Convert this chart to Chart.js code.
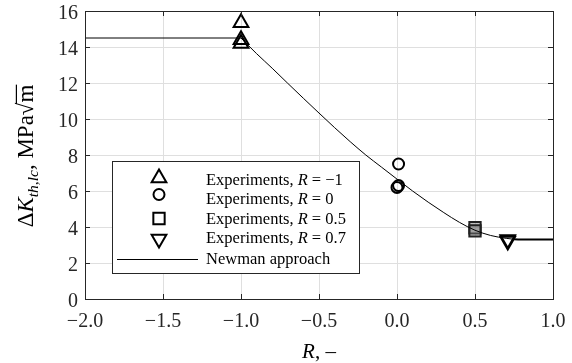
<!DOCTYPE html>
<html><head><meta charset="utf-8">
<script src="https://cdn.jsdelivr.net/npm/chart.js@4"></script>
<style>html,body{margin:0;padding:0;background:#fff;}canvas{display:block;}</style>
</head><body>
<canvas id="c" width="572" height="363"></canvas>
<script>
// ---- data ----
const triR = [-1, -1, -1];
const triK = [15.35, 14.4, 14.2];
const circR = [0.01, 0.01, 0.0];
const circK = [7.5, 6.3, 6.2];
const sqR = [0.5, 0.5];
const sqK = [3.96, 3.78];
const dtriR = [0.71, 0.71];
const dtriK = [3.22, 3.3];
const newmanFlatR = [-2, -1];
const newmanFlatK = [14.5, 14.5];
const newmanR = [-1, -0.9, -0.8, -0.7, -0.6, -0.5, -0.4, -0.3, -0.2, -0.1, 0, 0.1, 0.2, 0.3, 0.4, 0.5, 0.6, 0.7, 0.75, 0.8, 1.0];
const newmanK = [14.5, 13.63, 12.82, 11.98, 11.15, 10.33, 9.52, 8.74, 8.0, 7.33, 6.66, 6.0, 5.38, 4.8, 4.26, 3.82, 3.53, 3.37, 3.32, 3.3, 3.3];
const legendLabels = [
  ['Experiments, ', 'R', ' = −1'],
  ['Experiments, ', 'R', ' = 0'],
  ['Experiments, ', 'R', ' = 0.5'],
  ['Experiments, ', 'R', ' = 0.7'],
  ['Newman approach', '', '']
];
const xMin = -2, xMax = 1, xStep = 0.5;
const yMin = 0, yMax = 16, yStep = 2;

const pts = (xs, ys) => xs.map((x, i) => ({x: x, y: ys[i]}));
const FONT = '"Liberation Serif", "Times New Roman", serif';
const INK = '#262626';

function marker(ctx, style, x, y, r) {
  ctx.beginPath();
  if (style === 'triangle' || style === 'triangleDown') {
    const s = style === 'triangle' ? 1 : -1;
    const h = r * Math.sin(2 * Math.PI / 3);
    ctx.moveTo(x, y - s * r);
    ctx.lineTo(x + h, y + s * r / 2);
    ctx.lineTo(x - h, y + s * r / 2);
    ctx.closePath();
  } else if (style === 'circle') {
    ctx.arc(x, y, r, 0, Math.PI * 2);
  } else {
    const a = r * Math.SQRT1_2;
    ctx.rect(x - a, y - a, 2 * a, 2 * a);
  }
  ctx.fillStyle = '#fff';
  ctx.fill();
  ctx.lineWidth = 2;
  ctx.strokeStyle = '#000';
  ctx.stroke();
}

const decor = {
  id: 'decor',
  afterDatasetsDraw(chart) {
    const ctx = chart.ctx, a = chart.chartArea;
    const sx = chart.scales.x, sy = chart.scales.y;
    ctx.save();
    // inward ticks
    ctx.strokeStyle = INK; ctx.lineWidth = 1;
    ctx.beginPath();
    sx.ticks.forEach(t => {
      const px = Math.round(sx.getPixelForValue(t.value)) + 0.5;
      ctx.moveTo(px, a.bottom); ctx.lineTo(px, a.bottom - 5);
      ctx.moveTo(px, a.top); ctx.lineTo(px, a.top + 5);
    });
    sy.ticks.forEach(t => {
      const py = Math.round(sy.getPixelForValue(t.value)) + 0.5;
      ctx.moveTo(a.left, py); ctx.lineTo(a.left + 5, py);
      ctx.moveTo(a.right, py); ctx.lineTo(a.right - 5, py);
    });
    ctx.stroke();
    // frame
    ctx.strokeRect(Math.round(a.left) + 0.5, Math.round(a.top) + 0.5,
                   Math.round(a.right - a.left), Math.round(a.bottom - a.top));

    // legend box
    const L = 112, T = 161, W = 247, H = 112;
    ctx.fillStyle = '#fff';
    ctx.fillRect(L, T, W, H);
    ctx.strokeStyle = INK;
    ctx.strokeRect(L + 0.5, T + 0.5, W, H);
    const styles = ['triangle', 'circle', 'rect', 'triangleDown'];
    const my = [178, 194.5, 218.5, 239];
    const mr = [8.5, 5.5, 8, 8.5];
    styles.forEach((s, i) => marker(ctx, s, 159, my[i], mr[i]));
    ctx.beginPath();
    ctx.moveTo(117, 259.5); ctx.lineTo(198, 259.5);
    ctx.strokeStyle = '#000'; ctx.lineWidth = 1; ctx.stroke();
    const base = [185, 204, 223.5, 243, 264];
    ctx.fillStyle = '#000';
    ctx.textBaseline = 'alphabetic';
    ctx.textAlign = 'left';
    legendLabels.forEach((parts, i) => {
      let x = 206;
      const fonts = ['16.5px ' + FONT, 'italic 16.5px ' + FONT, '16.5px ' + FONT];
      parts.forEach((p, j) => {
        if (!p) return;
        ctx.font = fonts[j];
        ctx.fillText(p, x, base[i]);
        x += ctx.measureText(p).width;
      });
    });
    ctx.restore();
  },
  afterDraw(chart) {
    const ctx = chart.ctx, a = chart.chartArea;
    ctx.save();
    ctx.fillStyle = '#000';
    ctx.textBaseline = 'alphabetic';
    // x title
    const xp = [['R', 'italic 21px ' + FONT], [', –', '21px ' + FONT]];
    let w = 0;
    xp.forEach(p => { ctx.font = p[1]; w += ctx.measureText(p[0]).width; });
    let x = (a.left + a.right) / 2 - w / 2;
    xp.forEach(p => { ctx.font = p[1]; ctx.fillText(p[0], x, 358); x += ctx.measureText(p[0]).width; });
    // y title
    ctx.translate(33, 156);
    ctx.rotate(-Math.PI / 2);
    const yp = [
      ['Δ', '23px ' + FONT, 0],
      ['K', 'italic 23px ' + FONT, 0],
      ['th,lc', 'italic 15.5px ' + FONT, 5],
      [',', '23px ' + FONT, 0],
      [' MPa', '23px ' + FONT, 0],
      ['√', '23px ' + FONT, 0],
      ['m', '23px ' + FONT, 0]
    ];
    w = 0;
    yp.forEach(p => { ctx.font = p[1]; w += ctx.measureText(p[0]).width; });
    x = -w / 2;
    let sqrtEnd = 0;
    yp.forEach(p => {
      ctx.font = p[1];
      ctx.fillText(p[0], x, p[2]);
      const pw = ctx.measureText(p[0]).width;
      if (p[0] === '√') sqrtEnd = x + pw;
      if (p[0] === 'm') {
        ctx.fillRect(sqrtEnd - 1.5, -17.2, x + pw - sqrtEnd + 1.5, 1.2);
      }
      x += pw;
    });
    ctx.restore();
  }
};

new Chart(document.getElementById('c'), {
  type: 'scatter',
  data: {
    datasets: [
      { data: pts(newmanFlatR, newmanFlatK), showLine: true, borderColor: '#000', borderWidth: 1, pointRadius: 0 },
      { data: pts(newmanR, newmanK), showLine: true, borderColor: '#000', borderWidth: 1, pointRadius: 0,
        cubicInterpolationMode: 'monotone',
        segment: { borderWidth: c => (c.p0.parsed.x >= 0.74 ? 2 : 1) } },
      { data: pts(triR, triK), pointStyle: 'triangle', pointRadius: 8.5, borderColor: '#000', backgroundColor: 'rgba(255,255,255,0)', borderWidth: 2 },
      { data: pts(circR, circK), pointStyle: 'circle', pointRadius: 5.5, borderColor: '#000', backgroundColor: 'rgba(255,255,255,0)', borderWidth: 2 },
      { data: pts(sqR, sqK), pointStyle: 'rect', pointRadius: 8, borderColor: '#222', backgroundColor: 'rgba(120,120,120,0.45)', borderWidth: 2 },
      { data: pts(dtriR, dtriK), pointStyle: 'triangle', rotation: 180, pointRadius: 8.5, borderColor: '#000', backgroundColor: 'rgba(255,255,255,0)', borderWidth: 2 }
    ]
  },
  options: {
    responsive: false,
    animation: false,
    devicePixelRatio: 1,
    clip: false,
    events: [],
    layout: { padding: { left: 0, right: 19, top: 11, bottom: 0 } },
    plugins: { legend: { display: false }, tooltip: { enabled: false } },
    scales: {
      x: {
        type: 'linear', min: xMin, max: xMax,
        border: { display: false },
        grid: { color: '#dfdfdf', drawTicks: false },
        ticks: { stepSize: xStep, padding: 11, color: INK, font: { family: FONT, size: 20 },
          callback: v => (v < 0 ? '−' : '') + Math.abs(v).toFixed(1) },
        afterFit: s => { s.height = 64; s.paddingLeft = 0; s.paddingRight = 0; }
      },
      y: {
        type: 'linear', min: yMin, max: yMax,
        border: { display: false },
        grid: { color: '#dfdfdf', drawTicks: false },
        ticks: { stepSize: yStep, padding: 7, labelOffset: 3, color: INK, font: { family: FONT, size: 20 } },
        afterFit: s => { s.width = 85; s.paddingTop = 0; s.paddingBottom = 0; }
      }
    }
  },
  plugins: [decor]
});
</script>
</body></html>
